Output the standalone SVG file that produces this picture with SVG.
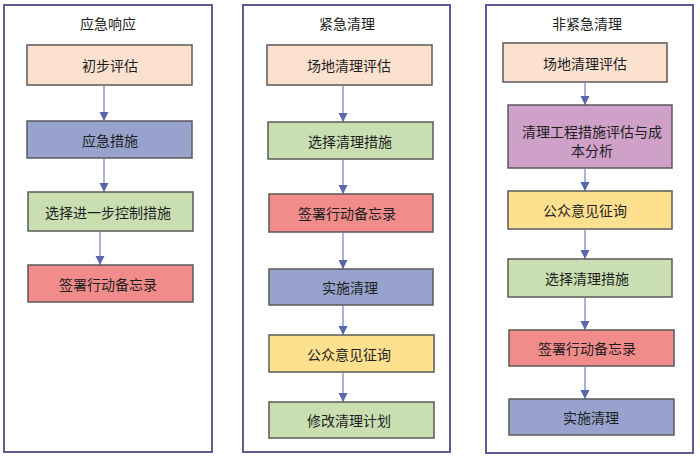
<svg xmlns="http://www.w3.org/2000/svg" width="700" height="457" viewBox="0 0 700 457">
<defs>
<style>
.panel{fill:#fff;stroke:#5E5C92;stroke-width:2}
.box{stroke:#5a5a5a;stroke-width:1.5}
.t{font-family:"Noto Sans CJK SC","Noto Sans",sans-serif;font-size:14px;fill:#1e1e1e;text-anchor:middle;dominant-baseline:central}
.c{stroke:#8D98CC;stroke-width:1.5;fill:none;marker-end:url(#ah)}
.peach{fill:#FDE1CF}.blue{fill:#97A3CD}.green{fill:#C9DFB1}.red{fill:#F28C8B}.yellow{fill:#FFE08F}.purple{fill:#CFA1C8}
</style>
<marker id="ah" markerWidth="10" markerHeight="10" refX="9" refY="5" orient="auto" markerUnits="userSpaceOnUse">
<path d="M0,0.5 L9,5 L0,9.5 Z" fill="#5A66AA"/>
</marker>
</defs>
<rect width="700" height="457" fill="#fff"/>
<g id="panel-1">
<rect class="panel" x="4" y="5" width="208" height="447"/>
<text class="t" x="108" y="23">应急响应</text>
</g>
<g id="panel-2">
<rect class="panel" x="243" y="5" width="207" height="447"/>
<text class="t" x="347" y="23">紧急清理</text>
</g>
<g id="panel-3">
<rect class="panel" x="486" y="5" width="207" height="448"/>
<text class="t" x="587" y="23">非紧急清理</text>
</g>
<g id="connectors">
<path class="c" d="M104,86 V121"/>
<path class="c" d="M104,159 V192"/>
<path class="c" d="M100,232 V265"/>
<path class="c" d="M343,86 V122"/>
<path class="c" d="M343,160 V194"/>
<path class="c" d="M343,233 V269"/>
<path class="c" d="M343,306 V335"/>
<path class="c" d="M343,373 V402"/>
<path class="c" d="M585,83 V105"/>
<path class="c" d="M585,169 V191"/>
<path class="c" d="M585,230 V259"/>
<path class="c" d="M585,298 V330"/>
<path class="c" d="M585,367 V399"/>
</g>
<g id="n1-1"><rect class="box peach" x="27" y="45" width="165" height="40"/><text class="t" x="110" y="65">初步评估</text></g>
<g id="n1-2"><rect class="box blue" x="27" y="121" width="165" height="37"/><text class="t" x="110" y="139.5">应急措施</text></g>
<g id="n1-3"><rect class="box green" x="28" y="192" width="165" height="39"/><text class="t" x="108" y="211.5">选择进一步控制措施</text></g>
<g id="n1-4"><rect class="box red" x="28" y="265" width="165" height="37"/><text class="t" x="108" y="283.5">签署行动备忘录</text></g>
<g id="n2-1"><rect class="box peach" x="267" y="45" width="165" height="40"/><text class="t" x="349" y="65">场地清理评估</text></g>
<g id="n2-2"><rect class="box green" x="268" y="122" width="165" height="37"/><text class="t" x="350" y="140.5">选择清理措施</text></g>
<g id="n2-3"><rect class="box red" x="269" y="194" width="164" height="38"/><text class="t" x="347" y="213">签署行动备忘录</text></g>
<g id="n2-4"><rect class="box blue" x="269" y="269" width="164" height="36"/><text class="t" x="350" y="287">实施清理</text></g>
<g id="n2-5"><rect class="box yellow" x="269" y="335" width="165" height="37"/><text class="t" x="349" y="353.5">公众意见征询</text></g>
<g id="n2-6"><rect class="box green" x="269" y="402" width="165" height="36"/><text class="t" x="349" y="420">修改清理计划</text></g>
<g id="n3-1"><rect class="box peach" x="503" y="43" width="164" height="39"/><text class="t" x="585" y="62.5">场地清理评估</text></g>
<g id="n3-2"><rect class="box purple" x="508" y="105" width="164" height="63"/><text class="t" x="592" y="130.5">清理工程措施评估与成</text><text class="t" x="592" y="149.5">本分析</text></g>
<g id="n3-3"><rect class="box yellow" x="508" y="191" width="164" height="38"/><text class="t" x="585" y="210">公众意见征询</text></g>
<g id="n3-4"><rect class="box green" x="508" y="259" width="164" height="38"/><text class="t" x="587" y="278">选择清理措施</text></g>
<g id="n3-5"><rect class="box red" x="509" y="330" width="165" height="36"/><text class="t" x="587" y="348">签署行动备忘录</text></g>
<g id="n3-6"><rect class="box blue" x="509" y="399" width="165" height="36"/><text class="t" x="591" y="417">实施清理</text></g>
</svg>
